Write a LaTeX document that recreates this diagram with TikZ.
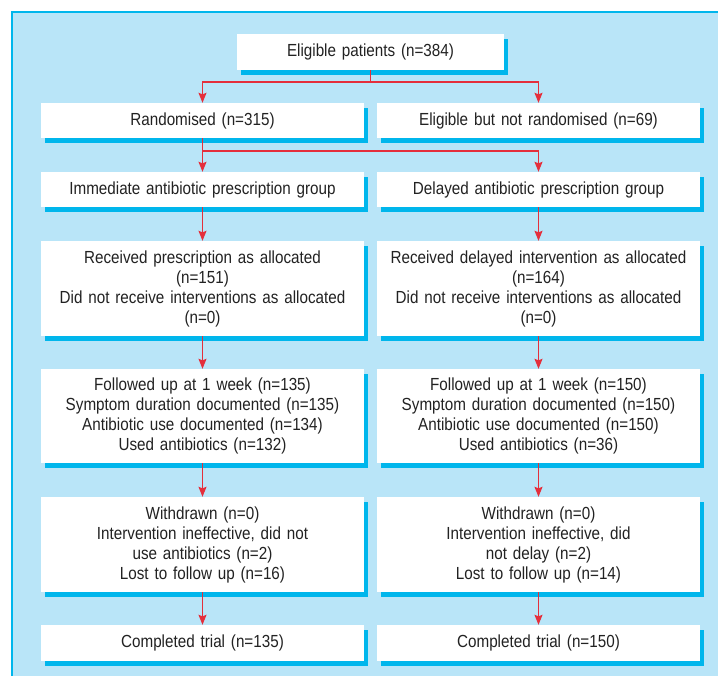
\documentclass[tikz,border=0pt]{standalone}
\usepackage{fontspec}
\setmainfont{Liberation Sans}[FakeStretch=0.87]
\usetikzlibrary{arrows.meta,shadows}
\definecolor{panelblue}{HTML}{B9E5F8}
\definecolor{shadowcyan}{HTML}{00B6EC}
\definecolor{linered}{HTML}{E42F3C}
\definecolor{txtgray}{HTML}{222222}
\tikzset{
  box/.style={fill=white, draw=none, inner xsep=0pt, inner ysep=0pt,
    minimum width=323pt, text width=323pt, align=center,
    font=\fontsize{17.5}{20}\selectfont, text=txtgray,
    drop shadow={shadow xshift=4pt, shadow yshift=-5pt, fill=shadowcyan, opacity=1}},
  conn/.style={draw=linered, line width=1.1pt},
  arr/.style={conn, -{Stealth[length=10pt,width=8pt,inset=1.5pt]}},
}
\begin{document}
\begin{tikzpicture}
\useasboundingbox (0pt,0pt) rectangle (718pt,-676pt);
\fill[white] (0pt,0pt) rectangle (718pt,-676pt);
\fill[panelblue] (12pt,-12pt) rectangle (718pt,-676pt);
\draw[shadowcyan, line width=1.5pt] (12pt,-676pt) -- (12pt,-12pt) -- (718pt,-12pt);

\node[box, minimum width=267pt, text width=267pt, minimum height=36pt] (elig) at (370.5pt,-52pt) {Eligible patients (n=384)};

\node[box, minimum height=35pt] (rand) at (202.5pt,-120.5pt) {Randomised (n=315)};
\node[box, minimum height=35pt] (notr) at (538.5pt,-120.5pt) {Eligible but not randomised (n=69)};

\node[box, minimum height=35pt] (imm) at (202.5pt,-189.5pt) {Immediate antibiotic prescription group};
\node[box, minimum height=35pt] (del) at (538.5pt,-189.5pt) {Delayed antibiotic prescription group};

\node[box, minimum height=95pt] (recl) at (202.5pt,-288.5pt) {Received prescription as allocated\\(n=151)\\Did not receive interventions as allocated\\(n=0)};
\node[box, minimum height=95pt] (recr) at (538.5pt,-288.5pt) {Received delayed intervention as allocated\\(n=164)\\Did not receive interventions as allocated\\(n=0)};

\node[box, minimum height=94pt] (fupl) at (202.5pt,-416pt) {Followed up at 1 week (n=135)\\Symptom duration documented (n=135)\\Antibiotic use documented (n=134)\\Used antibiotics (n=132)};
\node[box, minimum height=94pt] (fupr) at (538.5pt,-416pt) {Followed up at 1 week (n=150)\\Symptom duration documented (n=150)\\Antibiotic use documented (n=150)\\Used antibiotics (n=36)};

\node[box, minimum height=95pt] (wdl) at (202.5pt,-544.5pt) {Withdrawn (n=0)\\Intervention ineffective, did not\\use antibiotics (n=2)\\Lost to follow up (n=16)};
\node[box, minimum height=95pt] (wdr) at (538.5pt,-544.5pt) {Withdrawn (n=0)\\Intervention ineffective, did\\not delay (n=2)\\Lost to follow up (n=14)};

\node[box, minimum height=36pt] (compl) at (202.5pt,-643pt) {Completed trial (n=135)};
\node[box, minimum height=36pt] (compr) at (538.5pt,-643pt) {Completed trial (n=150)};

\coordinate (j1) at (370.5pt,-82pt);
\draw[conn] (elig.south) -- (j1);
\draw[arr] (j1) -| (rand.north);
\draw[arr] (j1) -| (notr.north);

\coordinate (j2) at (202.5pt,-151pt);
\draw[arr] (rand.south) -- (imm.north);
\draw[arr] (j2) -| (del.north);

\draw[arr] (imm.south) -- (recl.north);
\draw[arr] (del.south) -- (recr.north);
\draw[arr] (recl.south) -- (fupl.north);
\draw[arr] (recr.south) -- (fupr.north);
\draw[arr] (fupl.south) -- (wdl.north);
\draw[arr] (fupr.south) -- (wdr.north);
\draw[arr] (wdl.south) -- (compl.north);
\draw[arr] (wdr.south) -- (compr.north);
\end{tikzpicture}
\end{document}
